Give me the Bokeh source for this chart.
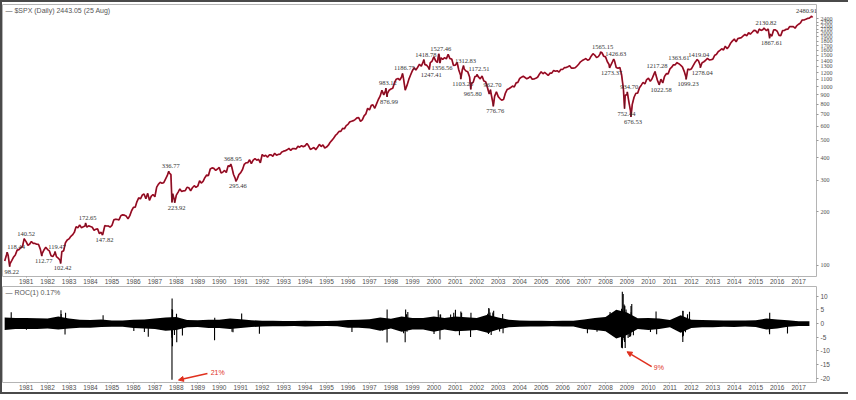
import numpy as np
import pandas as pd
from bokeh.plotting import figure
from bokeh.layouts import column
from bokeh.models import FixedTicker, ColumnDataSource, Label, Arrow, NormalHead, Range1d
from bokeh.core.properties import value
from bokeh.embed import file_html
from bokeh.resources import INLINE

# ---------------- data ----------------
spx_monthly_close = [
    114.16, 113.66, 102.09, 106.29, 111.24, 114.24, 121.67, 122.38, 125.46, 127.47, 140.52, 135.76,  # 1980
    129.55, 131.27, 136.00, 132.81, 132.59, 131.21, 130.92, 122.79, 116.18, 121.89, 126.35, 122.55,  # 1981
    120.40, 113.11, 111.96, 116.44, 111.88, 109.61, 107.09, 119.51, 120.42, 133.71, 138.54, 140.64,  # 1982
    145.30, 148.06, 152.96, 164.42, 162.39, 168.11, 162.56, 164.40, 166.07, 163.55, 166.40, 164.93,  # 1983
    163.41, 157.06, 159.18, 160.05, 150.55, 153.18, 150.66, 166.68, 166.10, 166.09, 163.58, 167.24,  # 1984
    179.63, 181.18, 180.66, 179.83, 189.55, 191.85, 190.92, 188.63, 182.08, 189.82, 202.17, 211.28,  # 1985
    211.78, 226.92, 238.90, 235.52, 247.35, 250.84, 236.12, 252.93, 231.32, 243.98, 249.22, 242.17,  # 1986
    274.08, 284.20, 291.70, 288.36, 290.10, 304.00, 318.66, 329.80, 321.83, 251.79, 230.30, 247.08,  # 1987
    257.07, 267.82, 258.89, 261.33, 262.16, 273.50, 272.02, 261.52, 271.91, 278.97, 273.70, 277.72,  # 1988
    297.47, 288.86, 294.87, 309.64, 320.52, 317.98, 346.08, 351.45, 349.15, 340.36, 345.99, 353.40,  # 1989
    329.08, 331.89, 339.94, 330.80, 361.23, 358.02, 356.15, 322.56, 306.05, 304.00, 322.22, 330.22,  # 1990
    343.93, 367.07, 375.22, 375.35, 389.83, 371.16, 387.81, 395.43, 387.86, 392.46, 375.22, 417.09,  # 1991
    408.79, 412.70, 403.69, 414.95, 415.35, 408.14, 424.21, 414.03, 417.80, 418.68, 431.35, 435.71,  # 1992
    438.78, 443.38, 451.67, 440.19, 450.19, 450.53, 448.13, 463.56, 458.93, 467.83, 461.79, 466.45,  # 1993
    481.61, 467.14, 445.77, 450.91, 456.50, 444.27, 458.26, 475.49, 462.69, 472.35, 453.69, 459.27,  # 1994
    470.42, 487.39, 500.71, 514.71, 533.40, 544.75, 562.06, 561.88, 584.41, 581.50, 605.37, 615.93,  # 1995
    636.02, 640.43, 645.50, 654.17, 669.12, 670.63, 639.95, 651.99, 687.31, 705.27, 757.02, 740.74,  # 1996
    786.16, 790.82, 757.12, 801.34, 848.28, 885.14, 954.29, 899.47, 947.28, 914.62, 955.40, 970.43,  # 1997
    980.28, 1049.34, 1101.75, 1111.75, 1090.82, 1133.84, 1120.67, 957.28, 1017.01, 1098.67, 1163.63, 1229.23,  # 1998
    1279.64, 1238.33, 1286.37, 1335.18, 1301.84, 1372.71, 1328.72, 1320.41, 1282.71, 1362.93, 1388.91, 1469.25,  # 1999
    1394.46, 1366.42, 1498.58, 1452.43, 1420.60, 1454.60, 1430.83, 1517.68, 1436.51, 1429.40, 1314.95, 1320.28,  # 2000
    1366.01, 1239.94, 1160.33, 1249.46, 1255.82, 1224.38, 1211.23, 1133.58, 1040.94, 1059.78, 1139.45, 1148.08,  # 2001
    1130.20, 1106.73, 1147.39, 1076.92, 1067.14, 989.82, 911.62, 916.07, 815.28, 885.76, 936.31, 879.82,  # 2002
    855.70, 841.15, 848.18, 916.92, 963.59, 974.50, 990.31, 1008.01, 995.97, 1050.71, 1058.20, 1111.92,  # 2003
    1131.13, 1144.94, 1126.21, 1107.30, 1120.68, 1140.84, 1101.72, 1104.24, 1114.58, 1130.20, 1173.82, 1211.92,  # 2004
    1181.27, 1203.60, 1180.59, 1156.85, 1191.50, 1191.33, 1234.18, 1220.33, 1228.81, 1207.01, 1249.48, 1248.29,  # 2005
    1280.08, 1280.66, 1294.83, 1310.61, 1270.09, 1270.20, 1276.66, 1303.82, 1335.85, 1377.94, 1400.63, 1418.30,  # 2006
    1438.24, 1406.82, 1420.86, 1482.37, 1530.62, 1503.35, 1455.27, 1473.99, 1526.75, 1549.38, 1481.14, 1468.36,  # 2007
    1378.55, 1330.63, 1322.70, 1385.59, 1400.38, 1280.00, 1267.38, 1282.83, 1166.36, 968.75, 896.24, 903.25,  # 2008
    825.88, 735.09, 797.87, 872.81, 919.14, 919.32, 987.48, 1020.62, 1057.08, 1036.19, 1095.63, 1115.10,  # 2009
    1073.87, 1104.49, 1169.43, 1186.69, 1089.41, 1030.71, 1101.60, 1049.33, 1141.20, 1183.26, 1180.55, 1257.64,  # 2010
    1286.12, 1327.22, 1325.83, 1363.61, 1345.20, 1320.64, 1292.28, 1218.89, 1131.42, 1253.30, 1246.96, 1257.60,  # 2011
    1312.41, 1365.68, 1408.47, 1397.91, 1310.33, 1362.16, 1379.32, 1406.58, 1440.67, 1412.16, 1416.18, 1426.19,  # 2012
    1498.11, 1514.68, 1569.19, 1597.57, 1630.74, 1606.28, 1685.73, 1632.97, 1681.55, 1756.54, 1805.81, 1848.36,  # 2013
    1782.59, 1859.45, 1872.34, 1883.95, 1923.57, 1960.23, 1930.67, 2003.37, 1972.29, 2018.05, 2067.56, 2058.90,  # 2014
    1994.99, 2104.50, 2067.89, 2085.51, 2107.39, 2063.11, 2103.84, 1972.18, 1920.03, 2079.36, 2080.41, 2043.94,  # 2015
    1940.24, 1932.23, 2059.74, 2065.30, 2096.95, 2098.86, 2173.60, 2170.95, 2168.27, 2126.15, 2198.81, 2238.83,  # 2016
    2278.87, 2363.64, 2362.72, 2384.20, 2411.80, 2423.41, 2470.30,  # 2017 (Jan-Jul)
]

# turning points (side: 1 label above / -1 label below / 0 no label)
pivot_dates = [
    "1980-01-02", "1980-02-13", "1980-03-27", "1980-11-28", "1981-09-25", "1982-05-07", "1982-08-12",
    "1983-10-10", "1984-07-24", "1987-08-25", "1987-10-19", "1987-12-04", "1990-07-16", "1990-10-11",
    "1997-10-07", "1997-10-27", "1998-07-17", "1999-07-16", "1999-10-15", "2000-03-24", "2000-04-14",
    "2001-04-04", "2001-05-21", "2001-09-21", "2002-01-04", "2002-08-22", "2002-10-09", "2007-10-09",
    "2008-03-10", "2008-05-19", "2008-11-20", "2009-01-06", "2009-03-09", "2010-04-23", "2010-07-02",
    "2011-04-29", "2011-10-03", "2012-04-02", "2012-06-01", "2015-05-21", "2015-08-25", "2017-08-07",
    "2017-08-25",
]
pivot_values = [
    105.76, 118.44, 98.22, 140.52, 112.77, 119.47, 102.42,
    172.65, 147.82, 336.77, 224.84, 223.92, 368.95, 295.46,
    983.12, 876.99, 1186.75, 1418.78, 1247.41, 1527.46, 1356.56,
    1103.25, 1312.83, 965.80, 1172.51, 962.70, 776.76, 1565.15,
    1273.37, 1426.63, 752.44, 934.70, 676.53, 1217.28, 1022.58,
    1363.61, 1099.23, 1419.04, 1278.04, 2130.82, 1867.61, 2480.91,
    2443.05,
]
pivot_side = [
    0, 1, -1, 1, -1, 1, -1,
    1, -1, 1, 0, -1, 1, -1,
    1, -1, 1, 1, -1, 1, -1,
    -1, 1, -1, 1, 1, -1, 1,
    -1, 1, -1, 1, -1, 1, -1,
    1, -1, 1, -1, 1, -1, 1,
    0,
]

year_ticks = list(range(1981, 2018))
price_ticks = list(range(100, 2500, 100))
roc_ticks = [-20, -15, -10, -5, 0, 5, 10]

# ROC(1) daily band: half-year envelope of typical daily % change (1980.0, 1980.5, ...)
roc_env_hi = [
    2.2, 2.0,  2.0, 1.9,  1.8, 2.6,  1.8, 1.4,  1.3, 1.5,  1.1, 1.1,  1.4, 1.5,  1.8, 2.2,  # 1980-1987
    2.4, 1.3,  1.2, 1.4,  1.4, 1.8,  1.6, 1.2,  1.0, 1.0,  0.9, 0.9,  1.0, 0.9,  0.9, 1.0,  # 1988-1995
    1.3, 1.4,  1.6, 2.2,  1.7, 2.6,  2.0, 2.0,  2.6, 2.0,  2.6, 2.3,  2.0, 3.2,  2.2, 1.4,  # 1996-2003
    1.1, 1.0,  1.0, 0.9,  1.0, 1.0,  1.5, 2.0,  2.4, 5.0,  4.0, 1.9,  2.0, 1.8,  1.3, 3.0,  # 2004-2011
    1.4, 1.3,  1.2, 1.1,  1.1, 1.1,  1.2, 1.8,  1.5, 1.2,  0.8, 0.8,                          # 2012-2017
]
roc_env_lo = [
    -2.4, -2.0,  -2.0, -2.0,  -1.8, -2.2,  -1.8, -1.5,  -1.5, -1.3,  -1.2, -1.2,  -1.6, -1.8,  -2.0, -2.6,
    -2.4, -1.4,  -1.3, -1.6,  -1.6, -2.0,  -1.6, -1.3,  -1.1, -1.0,  -1.0, -0.9,  -1.1, -1.0,  -0.9, -1.0,
    -1.5, -1.5,  -1.8, -2.6,  -1.8, -3.0,  -2.2, -2.2,  -3.0, -2.2,  -2.8, -2.6,  -2.4, -3.4,  -2.2, -1.4,
    -1.2, -1.1,  -1.1, -1.0,  -1.1, -1.1,  -2.0, -2.4,  -2.8, -5.5,  -4.2, -2.0,  -2.4, -2.0,  -1.4, -3.4,
    -1.6, -1.4,  -1.4, -1.2,  -1.3, -1.1,  -1.3, -2.2,  -1.8, -1.2,  -0.9, -0.9,
]
roc_env_x = [1980.0 + 0.5 * i for i in range(len(roc_env_hi))]

# individual large daily moves (%)
roc_spike_dates = [
    "1980-04-22", "1981-01-07", "1982-08-17", "1982-08-20", "1982-10-25", "1982-11-03", "1984-08-03",
    "1986-01-08", "1986-07-07", "1986-09-11", "1987-04-14", "1987-10-14", "1987-10-16", "1987-10-19",
    "1987-10-20", "1987-10-21", "1987-10-22", "1987-10-26", "1987-10-29", "1987-10-30", "1987-11-30",
    "1988-01-04", "1988-01-08", "1988-04-14", "1989-10-13", "1989-10-16", "1990-08-06", "1990-08-23",
    "1991-01-17", "1991-11-15", "1996-03-08", "1997-08-15", "1997-10-27", "1997-10-28", "1998-08-04",
    "1998-08-31", "1998-09-08", "1998-09-10", "1998-09-23", "1998-10-01", "1998-10-15", "2000-01-04",
    "2000-03-07", "2000-03-16", "2000-04-14", "2000-04-17", "2000-04-25", "2000-10-13", "2000-12-05",
    "2001-01-03", "2001-03-12", "2001-04-05", "2001-04-18", "2001-09-17", "2001-09-24", "2002-07-05",
    "2002-07-10", "2002-07-19", "2002-07-24", "2002-07-29", "2002-08-05", "2002-08-14", "2002-09-03",
    "2002-10-01", "2002-10-10", "2002-10-15", "2003-01-24", "2003-03-17", "2003-03-24", "2007-02-27",
    "2007-08-09", "2008-03-18", "2008-04-01", "2008-09-29", "2008-09-30", "2008-10-07", "2008-10-09",
    "2008-10-13", "2008-10-15", "2008-10-20", "2008-10-22", "2008-10-28", "2008-11-04", "2008-11-05",
    "2008-11-06", "2008-11-13", "2008-11-19", "2008-11-20", "2008-11-21", "2008-11-24", "2008-12-01",
    "2008-12-08", "2008-12-16", "2009-01-20", "2009-02-10", "2009-03-02", "2009-03-05", "2009-03-10",
    "2009-03-12", "2009-03-23", "2009-04-20", "2010-02-04", "2010-05-10", "2010-05-20", "2011-08-04",
    "2011-08-08", "2011-08-09", "2011-08-10", "2011-08-11", "2011-08-18", "2011-09-22", "2011-10-27",
    "2011-11-30", "2015-08-21", "2015-08-24", "2015-08-26", "2016-06-24",
]
roc_spike_values = [
    4.1, -2.3, 4.8, 3.5, -4.0, 3.9, 3.0,
    -2.7, -3.1, -4.8, -2.3, -3.0, -5.2, -20.5,
    5.3, 9.1, -3.9, -8.3, 4.9, 2.3, -4.2,
    3.6, -6.8, -4.4, -6.1, 2.1, -3.0, -3.2,
    3.7, -3.7, -3.1, -2.6, -6.9, 5.1, -3.5,
    -6.8, 5.1, -2.6, 3.4, -3.0, 4.2, -3.8,
    -2.6, 4.8, -5.8, 3.3, 3.3, 3.3, 3.9,
    5.0, -4.3, 4.4, 3.9, -4.9, 3.9, 3.6,
    -3.4, -3.8, 5.7, 5.4, -3.4, 4.0, -4.2,
    4.0, 3.5, 4.7, -2.9, 3.5, -3.5, -3.5,
    -3.0, 4.2, 3.6, -8.8, 5.4, -5.7, -7.6,
    11.6, -9.0, 4.8, -6.1, 10.8, 4.1, -5.3,
    -5.0, 6.9, -6.1, -6.7, 6.3, 6.5, -8.9,
    3.8, 5.1, -5.3, -4.9, -4.7, -4.3, 6.4,
    4.1, 7.1, -4.3, -3.1, 4.4, -3.9, -4.8,
    -6.7, 4.7, -4.4, 4.6, -4.5, -3.2, 3.4,
    4.3, -3.2, -3.9, 3.9, -3.6,
]

last_close = 2443.05
last_roc = 0.17


# ---------------- helpers ----------------
def dec_year(ts):
    ts = pd.Timestamp(ts)
    start = pd.Timestamp(ts.year, 1, 1)
    end = pd.Timestamp(ts.year + 1, 1, 1)
    return ts.year + (ts - start) / (end - start)


month_ends = pd.period_range("1980-01", periods=len(spx_monthly_close), freq="M").to_timestamp(how="end")
pts = [(dec_year(d), v) for d, v in zip(month_ends, spx_monthly_close)]
pts += [(dec_year(d), v) for d, v in zip(pivot_dates, pivot_values)]
pts.sort(key=lambda t: t[0])
price_x = [t[0] for t in pts]
price_y = [t[1] for t in pts]

# small horizontal nudges so edge labels stay inside the plot frame
label_nudge = {"118.44": 7, "2480.91": -7}

ann_above = dict(x=[], y=[], text=[], dx=[])
ann_below = dict(x=[], y=[], text=[], dx=[])
for d, v, s in zip(pivot_dates, pivot_values, pivot_side):
    if s == 1:
        tgt = ann_above
    elif s == -1:
        tgt = ann_below
    else:
        continue
    t = f"{v:.2f}"
    tgt["x"].append(dec_year(d))
    tgt["y"].append(v)
    tgt["text"].append(t)
    tgt["dx"].append(2 + label_nudge.get(t, 0))

spike_x = [dec_year(d) for d in roc_spike_dates]

X0, X1 = 1979.9, 2017.83
AX_FONT = value("Liberation Sans")
LBL_FONT = value("Liberation Serif")
AX_COLOR = "#505050"


def style_axes(p):
    p.grid.visible = False
    p.outline_line_color = "#b4b4b4"
    p.outline_line_width = 1
    for ax in (p.xaxis[0], p.yaxis[0]):
        ax.axis_line_color = None
        ax.major_tick_line_color = "#999999"
        ax.major_tick_out = 2
        ax.major_tick_in = 0
        ax.minor_tick_line_color = None
        ax.major_label_text_font = "Liberation Sans"
        ax.major_label_text_font_size = "6.5px"
        ax.major_label_text_color = AX_COLOR
        ax.major_label_standoff = 2
    p.xaxis.ticker = FixedTicker(ticks=year_ticks)
    p.xaxis.major_label_overrides = {y: str(y) for y in year_ticks}
    p.xaxis.major_tick_out = 1
    p.xaxis.major_label_standoff = 1


# ---------------- price panel ----------------
p1 = figure(frame_width=814, frame_height=272, x_range=Range1d(X0, X1), y_range=Range1d(86.6, 2886),
            y_axis_type="log", y_axis_location="right", output_backend="svg", toolbar_location=None,
            min_border_left=0, min_border_top=2, min_border_bottom=0, min_border_right=32,
            background_fill_color="white", border_fill_color="white")
style_axes(p1)
p1.yaxis.ticker = FixedTicker(ticks=price_ticks)
p1.yaxis.major_label_overrides = {t: str(t) for t in price_ticks}
p1.yaxis.major_label_text_font = "Liberation Serif"
p1.yaxis.major_label_text_font_size = "6px"

p1.line(price_x, price_y, line_color="#c4102e", line_width=1.7)
p1.line(price_x, price_y, line_color="#1a1a1a", line_width=0.6, line_alpha=0.75)

p1.text(x="x", y="y", text="text", source=ColumnDataSource(ann_above), text_font=LBL_FONT,
        text_font_size="6.5px", text_color="#333333", text_align="center", text_baseline="bottom",
        x_offset="dx", y_offset=-3)
p1.text(x="x", y="y", text="text", source=ColumnDataSource(ann_below), text_font=LBL_FONT,
        text_font_size="6.5px", text_color="#333333", text_align="center", text_baseline="top",
        x_offset="dx", y_offset=3)

p1.text(x=[X0], y=[2886], text=["\u2014 $SPX (Daily) 2443.05 (25 Aug)"], text_font=AX_FONT,
        text_font_size="7px", text_color="#555555", text_align="left", text_baseline="top",
        x_offset=3, y_offset=2)

p1.add_layout(Label(x=X1, y=last_close, text=f"{last_close:.2f}", x_offset=1, text_align="left",
                    text_baseline="middle", text_font="Liberation Sans", text_font_size="6.5px",
                    text_font_style="bold", text_color="#222222", background_fill_color="white",
                    border_line_color="#666666", padding=1))

# ---------------- ROC panel ----------------
p2 = figure(frame_width=814, frame_height=96, x_range=p1.x_range, y_range=Range1d(-21.5, 13.5),
            y_axis_location="right", output_backend="svg", toolbar_location=None,
            min_border_left=0, min_border_top=0, min_border_bottom=0, min_border_right=32,
            background_fill_color="white", border_fill_color="white")
style_axes(p2)
p2.yaxis.ticker = FixedTicker(ticks=roc_ticks)
p2.yaxis.major_label_overrides = {t: str(t) for t in roc_ticks}

p2.varea(x=roc_env_x, y1=roc_env_lo, y2=roc_env_hi, fill_color="black")
p2.segment(x0=spike_x, y0=[0] * len(spike_x), x1=spike_x, y1=roc_spike_values,
           line_color="black", line_width=1.1)

p2.text(x=[X0], y=[13.5], text=["\u2014 ROC(1) 0.17%"], text_font=AX_FONT, text_font_size="7px",
        text_color="#555555", text_align="left", text_baseline="top", x_offset=3, y_offset=2)

p2.add_layout(Label(x=X1, y=last_roc, text=f"{last_roc:.2f}", x_offset=1, text_align="left",
                    text_baseline="middle", text_font="Liberation Sans", text_font_size="6.5px",
                    text_color="#222222", background_fill_color="white",
                    border_line_color="#666666", padding=1))

RED = "#e0301e"
p2.add_layout(Arrow(end=NormalHead(size=5, fill_color=RED, line_color=RED),
                    x_start=1989.45, y_start=-18.2, x_end=1988.1, y_end=-20.6,
                    line_color=RED, line_width=1.5))
p2.add_layout(Arrow(end=NormalHead(size=5, fill_color=RED, line_color=RED),
                    x_start=2010.15, y_start=-15.7, x_end=2009.0, y_end=-10.3,
                    line_color=RED, line_width=1.5))
p2.text(x=[1989.6, 2010.25], y=[-18.0, -16.2], text=["21%", "9%"], text_font=AX_FONT,
        text_font_size="7px", text_color=RED, text_align="left", text_baseline="middle")

layout = column(p1, p2, spacing=0,
                styles={"border-left": "2px solid #4a4a4a", "border-top": "2px solid #4a4a4a",
                        "border-bottom": "2px solid #4a4a4a"})

open("out.html", "w").write(file_html(layout, INLINE))
